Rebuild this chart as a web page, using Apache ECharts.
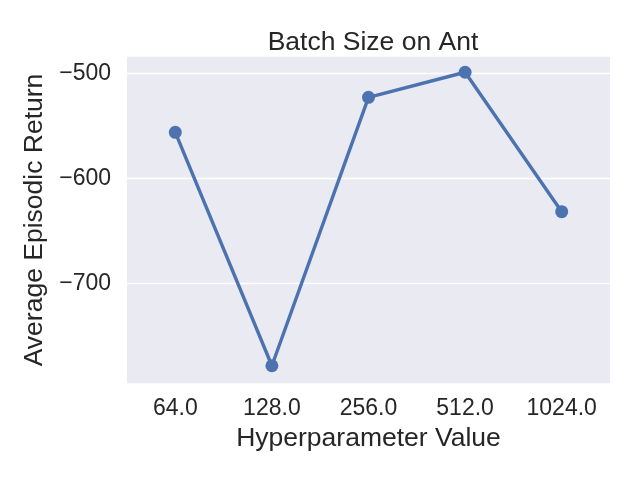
<!DOCTYPE html>
<html><head><meta charset="utf-8">
<script src="https://cdn.jsdelivr.net/npm/echarts@6/dist/echarts.min.js"></script>
<style>html,body{margin:0;padding:0;background:#fff}#c{width:640px;height:480px}</style>
</head><body><div id="c"></div>
<script>
const categories = ["64.0", "128.0", "256.0", "512.0", "1024.0"];
const returns = [-556.2, -778.5, -522.9, -499.0, -631.8];
const yTicks = [-500, -600, -700];
const titleText = "Batch Size on Ant";
const xName = "Hyperparameter Value";
const yName = "Average Episodic Return";

const FONT = "Liberation Sans, Arial, sans-serif";
const chart = echarts.init(document.getElementById('c'), null, {renderer: 'canvas'});
chart.setOption({
  backgroundColor: '#ffffff',
  animation: false,
  title: {
    text: titleText, left: 368, top: 24, textAlign: 'center',
    textStyle: {fontFamily: FONT, fontSize: 26.5, fontWeight: 'normal', color: '#262626'}
  },
  grid: {left: 127, right: 30, top: 56.7, bottom: 96.7, show: true, backgroundColor: '#eaeaf2', borderWidth: 0},
  xAxis: {
    type: 'category', data: categories, boundaryGap: true,
    name: xName, nameLocation: 'middle', nameGap: 37,
    nameTextStyle: {fontFamily: FONT, fontSize: 26.5, color: '#262626'},
    axisLine: {show: false}, axisTick: {show: false}, splitLine: {show: false},
    axisLabel: {fontFamily: FONT, fontSize: 23, color: '#262626', margin: 14}
  },
  yAxis: {
    type: 'value', min: -795.2, max: -484.2,
    name: yName, nameLocation: 'middle', nameGap: 76,
    nameTextStyle: {fontFamily: FONT, fontSize: 26.5, color: '#262626'},
    axisLine: {show: false}, axisTick: {show: false}, splitLine: {show: false},
    axisLabel: {
      fontFamily: FONT, fontSize: 23, color: '#262626', margin: 16,
      customValues: yTicks,
      formatter: v => String(v).replace('-', '\u2212')
    }
  },
  series: [{
    type: 'line', data: returns,
    symbol: 'circle', symbolSize: 13,
    lineStyle: {color: '#4c72b0', width: 3.4},
    itemStyle: {color: '#4c72b0'},
    z: 5,
    markLine: {
      silent: true, symbol: 'none', label: {show: false},
      lineStyle: {color: '#ffffff', width: 1.4, type: 'solid'},
      z: 1,
      data: yTicks.map(v => ({yAxis: v}))
    }
  }]
});
</script></body></html>
